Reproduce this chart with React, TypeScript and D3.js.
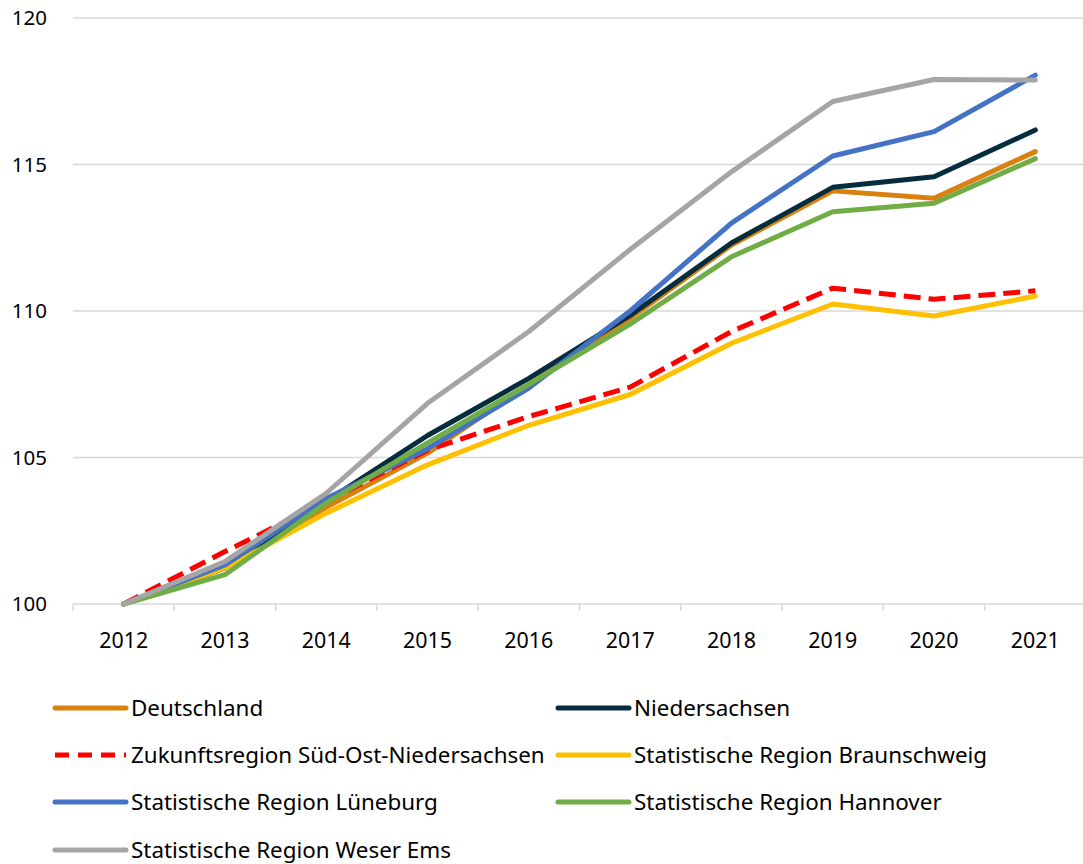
import React from "react";
import * as d3 from "d3";

const years = ["2012", "2013", "2014", "2015", "2016", "2017", "2018", "2019", "2020", "2021"];
const yTicks = [100, 105, 110, 115, 120];

const deutschland = [100, 101.23, 103.3, 105.15, 107.5, 109.75, 112.25, 114.1, 113.85, 115.44];
const niedersachsen = [100, 101.23, 103.5, 105.75, 107.7, 109.85, 112.32, 114.22, 114.58, 116.18];
const zukunft = [100, 101.79, 103.5, 105.25, 106.4, 107.4, 109.3, 110.78, 110.4, 110.69];
const braunschweig = [100, 101.23, 103.1, 104.75, 106.1, 107.15, 108.9, 110.24, 109.83, 110.51];
const lueneburg = [100, 101.33, 103.6, 105.3, 107.37, 110.0, 113.0, 115.29, 116.12, 118.05];
const hannover = [100, 101.0, 103.45, 105.5, 107.5, 109.55, 111.85, 113.39, 113.68, 115.2];
const weserEms = [100, 101.45, 103.78, 106.85, 109.3, 112.1, 114.75, 117.15, 117.9, 117.88];

const series = [
  { name: "Deutschland", values: deutschland, color: "#d9800f", dash: false },
  { name: "Niedersachsen", values: niedersachsen, color: "#062d3d", dash: false },
  { name: "Zukunftsregion Süd-Ost-Niedersachsen", values: zukunft, color: "#ff0000", dash: true },
  { name: "Statistische Region Braunschweig", values: braunschweig, color: "#ffc000", dash: false },
  { name: "Statistische Region Lüneburg", values: lueneburg, color: "#4472c4", dash: false },
  { name: "Statistische Region Hannover", values: hannover, color: "#70ad47", dash: false },
  { name: "Statistische Region Weser Ems", values: weserEms, color: "#a5a5a5", dash: false },
];

const W = 1083;
const H = 864;
const left = 73;
const right = 1086;
const top = 18;
const bottom = 604;
const font = "'Noto Sans', 'Open Sans', sans-serif";

export default function App() {
  const x = d3.scaleBand<string>().domain(years).range([left, right]);
  const y = d3.scaleLinear().domain([100, 120]).range([bottom, top]);
  const line = d3
    .line<number>()
    .x((_, i) => (x(years[i]) as number) + x.bandwidth() / 2)
    .y((d) => y(d));

  const legendCols = [55, 558];
  const legendRows = [708, 755, 802, 850];

  return (
    <svg
      width={W}
      height={H}
      style={{ position: "absolute", left: 0, top: 0, background: "#fff" }}
      fontFamily={font}
    >
      {yTicks.map((t) => (
        <g key={t}>
          <line x1={left} x2={W} y1={y(t)} y2={y(t)} stroke="#d9d9d9" strokeWidth={1.5} />
          <text x={47} y={y(t)} dy="0.36em" textAnchor="end" fontSize={20.5} fill="#000">
            {t}
          </text>
        </g>
      ))}
      {years.map((yr) => (
        <line
          key={"tk" + yr}
          x1={x(yr) as number}
          x2={x(yr) as number}
          y1={bottom}
          y2={bottom + 7}
          stroke="#d9d9d9"
          strokeWidth={1.5}
        />
      ))}
      {years.map((yr) => (
        <text
          key={"lb" + yr}
          x={(x(yr) as number) + x.bandwidth() / 2}
          y={648}
          textAnchor="middle"
          fontSize={21.4}
          fill="#000"
        >
          {yr}
        </text>
      ))}
      {series.map((s) => (
        <path
          key={s.name}
          d={line(s.values) || ""}
          fill="none"
          stroke={s.color}
          strokeWidth={5}
          strokeLinejoin="round"
          strokeLinecap={s.dash ? "butt" : "round"}
          strokeDasharray={s.dash ? "17 8" : undefined}
        />
      ))}
      {series.map((s, i) => {
        const cx = legendCols[i % 2];
        const cy = legendRows[Math.floor(i / 2)];
        return (
          <g key={"lg" + s.name}>
            <line
              x1={cx}
              x2={cx + 71}
              y1={cy}
              y2={cy}
              stroke={s.color}
              strokeWidth={5}
              strokeLinecap={s.dash ? "butt" : "round"}
              strokeDasharray={s.dash ? "14 9" : undefined}
            />
            <text x={cx + 76} y={cy} dy="0.35em" fontSize={22.4} fill="#000">
              {s.name}
            </text>
          </g>
        );
      })}
    </svg>
  );
}
